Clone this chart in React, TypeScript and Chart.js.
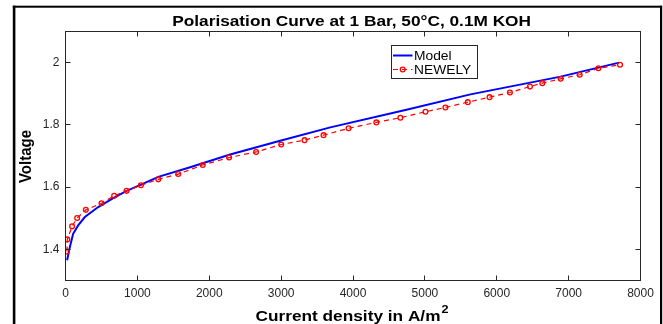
import React, { useEffect, useRef } from 'react';
import { Chart, registerables } from 'chart.js';

Chart.register(...registerables);

// ---- data ----
const modelCurrent = [22, 60, 106, 176, 269, 455, 664, 850, 1059, 1291, 1734, 2290, 2987, 3684, 4729, 5634, 6889, 7702];
const modelVoltage = [1.365, 1.407, 1.45, 1.477, 1.504, 1.536, 1.565, 1.588, 1.609, 1.633, 1.664, 1.705, 1.749, 1.792, 1.848, 1.898, 1.955, 2.0];

const newelyCurrent = [20, 25, 92, 162, 283, 501, 677, 850, 1049, 1291, 1569, 1909, 2276, 2652, 3001, 3326, 3590, 3939, 4325, 4659, 5008, 5286, 5597, 5900, 6183, 6462, 6634, 6889, 7154, 7414, 7715];
const newelyVoltage = [1.393, 1.432, 1.474, 1.501, 1.527, 1.548, 1.572, 1.588, 1.606, 1.625, 1.642, 1.671, 1.695, 1.713, 1.737, 1.751, 1.767, 1.789, 1.808, 1.823, 1.842, 1.856, 1.873, 1.889, 1.904, 1.923, 1.934, 1.948, 1.961, 1.982, 1.993];

const xTicks = [0, 1000, 2000, 3000, 4000, 5000, 6000, 7000, 8000];
const yTicks = [1.4, 1.6, 1.8, 2.0];
const xRange = [0, 8000];
const yRange = [1.3, 2.1];

const titleText = 'Polarisation Curve at 1 Bar, 50°C, 0.1M KOH';
const xLabelText = 'Current density in A/m';
const xLabelSup = '2';
const yLabelText = 'Voltage';
const seriesNames = ['Model', 'NEWELY'];

const FONT = '"Liberation Sans", Arial, Helvetica, sans-serif';
const SX = 1.15; // horizontal stretch of the reference's text
const AXIS = '#262626';
const BLUE = '#0000FF';
const RED = '#FF0000';

function drawText(ctx: CanvasRenderingContext2D, text: string, x: number, y: number, size: number, bold: boolean, align: CanvasTextAlign, color: string) {
  ctx.save();
  ctx.font = `${bold ? 'bold ' : ''}${size}px ${FONT}`;
  ctx.fillStyle = color;
  ctx.translate(x, y);
  ctx.scale(SX, 1);
  ctx.textAlign = align;
  ctx.textBaseline = 'alphabetic';
  ctx.fillText(text, 0, 0);
  ctx.restore();
}

const decorPlugin = {
  id: 'decor',
  beforeDraw(chart: any) {
    const ctx = chart.ctx as CanvasRenderingContext2D;
    ctx.save();
    ctx.fillStyle = '#ffffff';
    ctx.fillRect(0, 0, chart.width, chart.height);
    ctx.restore();
  },
  afterDraw(chart: any) {
    const ctx = chart.ctx as CanvasRenderingContext2D;
    const { left, right, top, bottom } = chart.chartArea;
    const xs = chart.scales.x;
    const ys = chart.scales.y;

    // axes box
    ctx.save();
    ctx.strokeStyle = AXIS;
    ctx.lineWidth = 1;
    ctx.strokeRect(left, top, right - left, bottom - top);

    // inside ticks, mirrored
    const TL = 5;
    ctx.beginPath();
    xTicks.forEach((v) => {
      const px = Math.floor(xs.getPixelForValue(v)) + 0.5;
      ctx.moveTo(px, bottom);
      ctx.lineTo(px, bottom - TL);
      ctx.moveTo(px, top);
      ctx.lineTo(px, top + TL);
    });
    yTicks.forEach((v) => {
      const py = Math.floor(ys.getPixelForValue(v)) + 0.5;
      ctx.moveTo(left, py);
      ctx.lineTo(left + TL, py);
      ctx.moveTo(right, py);
      ctx.lineTo(right - TL, py);
    });
    ctx.stroke();
    ctx.restore();

    // title
    drawText(ctx, titleText, 351.6, 26, 15, true, 'center', '#000');

    // x label with superscript
    ctx.save();
    ctx.font = `bold 15px ${FONT}`;
    const wMain = ctx.measureText(xLabelText).width * SX;
    ctx.font = `bold 11px ${FONT}`;
    const wSup = ctx.measureText(xLabelSup).width * SX;
    ctx.restore();
    const startX = 352 - (wMain + wSup + 1) / 2;
    drawText(ctx, xLabelText, startX, 321, 15, true, 'left', '#000');
    drawText(ctx, xLabelSup, startX + wMain + 1, 312.5, 11, true, 'left', '#000');

    // y label (rotated)
    ctx.save();
    ctx.font = `bold 15px ${FONT}`;
    ctx.fillStyle = '#000';
    ctx.translate(31, 156.5);
    ctx.rotate(-Math.PI / 2);
    ctx.scale(1, SX);
    ctx.textAlign = 'center';
    ctx.textBaseline = 'alphabetic';
    ctx.fillText(yLabelText, 0, 0);
    ctx.restore();

    // legend
    ctx.save();
    ctx.fillStyle = '#ffffff';
    ctx.fillRect(391.5, 45.5, 86, 33);
    ctx.strokeStyle = AXIS;
    ctx.lineWidth = 1;
    ctx.strokeRect(391.5, 45.5, 86, 33);

    ctx.strokeStyle = BLUE;
    ctx.lineWidth = 2;
    ctx.beginPath();
    ctx.moveTo(393, 55.5);
    ctx.lineTo(412.5, 55.5);
    ctx.stroke();

    ctx.strokeStyle = RED;
    ctx.lineWidth = 1.2;
    ctx.setLineDash([5, 4]);
    ctx.beginPath();
    ctx.moveTo(393, 69.5);
    ctx.lineTo(412.5, 69.5);
    ctx.stroke();
    ctx.setLineDash([]);
    ctx.lineWidth = 1.3;
    ctx.beginPath();
    ctx.arc(402.7, 69.5, 2.4, 0, Math.PI * 2);
    ctx.stroke();
    ctx.restore();

    drawText(ctx, seriesNames[0], 414, 59.5, 12, false, 'left', '#000');
    drawText(ctx, seriesNames[1], 414, 73.5, 12, false, 'left', '#000');

    // outer figure border
    ctx.save();
    ctx.fillStyle = '#000';
    ctx.fillRect(12.8, 5.7, 2.6, 330);
    ctx.fillRect(12.8, 5.7, 649, 2);
    ctx.fillRect(660, 5.7, 2.2, 330);
    ctx.restore();
  },
};

export default function App() {
  const canvasRef = useRef<HTMLCanvasElement | null>(null);

  useEffect(() => {
    const canvas = canvasRef.current;
    if (!canvas) return;
    const chart = new Chart(canvas, {
      type: 'line',
      data: {
        datasets: [
          {
            label: seriesNames[0],
            data: modelCurrent.map((x, i) => ({ x, y: modelVoltage[i] })),
            borderColor: BLUE,
            backgroundColor: BLUE,
            borderWidth: 2,
            pointRadius: 0,
            tension: 0,
            fill: false,
            order: 1,
          },
          {
            label: seriesNames[1],
            data: newelyCurrent.map((x, i) => ({ x, y: newelyVoltage[i] })),
            borderColor: RED,
            backgroundColor: 'rgba(0,0,0,0)',
            borderWidth: 1.2,
            borderDash: [5, 4],
            pointRadius: 2.4,
            pointBorderWidth: 1.3,
            pointBorderColor: RED,
            pointBackgroundColor: 'rgba(0,0,0,0)',
            tension: 0,
            fill: false,
            order: 0,
          },
        ],
      },
      options: {
        responsive: false,
        animation: false,
        devicePixelRatio: 1,
        layout: { padding: { left: 0, right: 22.5, top: 31.5, bottom: 0 } },
        plugins: {
          legend: { display: false },
          title: { display: false },
          tooltip: { enabled: false },
        },
        scales: {
          x: {
            type: 'linear',
            min: xRange[0],
            max: xRange[1],
            afterBuildTicks: (s: any) => {
              s.ticks = xTicks.map((v) => ({ value: v }));
            },
            afterFit: (s: any) => {
              s.height = 43.5;
            },
            grid: { display: false, drawTicks: false },
            border: { display: false },
            ticks: {
              padding: 6,
              color: AXIS,
              font: { family: FONT, size: 12 },
              maxRotation: 0,
              autoSkip: false,
              callback: (v: any) => String(v),
            },
          },
          y: {
            type: 'linear',
            min: yRange[0],
            max: yRange[1],
            afterBuildTicks: (s: any) => {
              s.ticks = yTicks.map((v) => ({ value: v }));
            },
            afterFit: (s: any) => {
              s.width = 65.5;
            },
            grid: { display: false, drawTicks: false },
            border: { display: false },
            ticks: {
              padding: 6,
              color: AXIS,
              font: { family: FONT, size: 12 },
              autoSkip: false,
              callback: (v: any) => String(Number(Number(v).toFixed(1))),
            },
          },
        },
      },
      plugins: [decorPlugin],
    } as any);
    return () => chart.destroy();
  }, []);

  return (
    <div style={{ position: 'fixed', left: 0, top: 0, width: 663, height: 324, background: '#fff' }}>
      <canvas ref={canvasRef} width={663} height={324} style={{ display: 'block' }} />
    </div>
  );
}
